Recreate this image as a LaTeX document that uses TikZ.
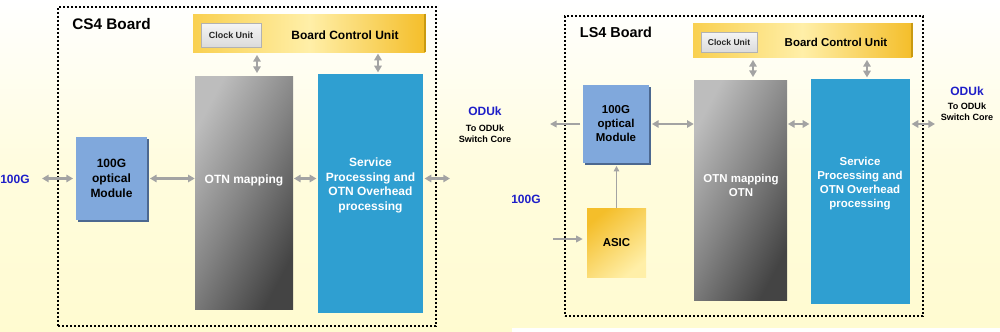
\documentclass[tikz,border=0pt]{standalone}
\usepackage{fontspec}
\setmainfont{Liberation Sans}
\usetikzlibrary{fit,arrows.meta,shadows}
\definecolor{bgY}{HTML}{FFFBD0}
\definecolor{goldA}{HTML}{F9D050}
\definecolor{goldB}{HTML}{F4BE2A}
\definecolor{goldC}{HTML}{FFEFA8}
\definecolor{goldE}{HTML}{C99A10}
\definecolor{otnL}{HTML}{BDBDBD}
\definecolor{otnM}{HTML}{838383}
\definecolor{otnD}{HTML}{444444}
\definecolor{spBlue}{HTML}{2F9FD1}
\definecolor{omBlue}{HTML}{80A8DC}
\definecolor{omDark}{HTML}{4C6890}
\definecolor{arrG}{HTML}{A3A3A3}
\definecolor{txtBlue}{HTML}{1E1EC8}
\tikzset{
  board/.style={draw=black, line width=1.5pt, dash pattern=on 1.6pt off 1.4pt, inner sep=0pt, rectangle},
  bcu/.style={inner sep=0pt, rectangle, left color=goldA, right color=goldB, middle color=goldC},
  clk/.style={inner sep=0pt, rectangle, draw=gray!60, line width=0.6pt, top color=gray!8, bottom color=gray!28},
  otn/.style={inner sep=0pt, rectangle, top color=otnL, bottom color=otnD, middle color=otnM, shading angle=62},
  spb/.style={inner sep=0pt, rectangle, fill=spBlue},
  omod/.style={inner sep=0pt, rectangle, fill=omBlue, drop shadow={shadow xshift=1.6pt, shadow yshift=-1.6pt, fill=omDark, opacity=1}},
  asicb/.style={inner sep=0pt, rectangle, top color=goldB, bottom color=goldC, shading angle=40},
  wtxt/.style={text=white, align=center, font=\bfseries\fontsize{9}{11}\selectfont},
  wtxtb/.style={text=white, align=center, font=\bfseries\fontsize{8.6}{10.5}\selectfont},
  ktxt/.style={text=black, align=center, font=\bfseries\fontsize{9}{11}\selectfont},
  ktxtb/.style={text=black, align=center, font=\bfseries\fontsize{8.6}{10.5}\selectfont},
  ttl/.style={text=black, font=\bfseries\fontsize{11.5}{13}\selectfont},
  ttlb/.style={text=black, font=\bfseries\fontsize{10.8}{13}\selectfont},
  clkt/.style={text=black!85, font=\bfseries\fontsize{6.7}{8}\selectfont},
  clktb/.style={text=black!85, font=\bfseries\fontsize{6.4}{8}\selectfont},
  bluet/.style={text=txtBlue, font=\bfseries\fontsize{9}{11}\selectfont},
  smallt/.style={text=black, align=center, font=\bfseries\fontsize{6.8}{8.2}\selectfont},
  dbl/.style={draw=arrG, line width=1.6pt, {Triangle[length=5pt,width=5.5pt]}-{Triangle[length=5pt,width=5.5pt]}},
  sgl/.style={draw=arrG, line width=1.2pt, -{Triangle[length=5pt,width=5pt]}},
  thin/.style={draw=arrG, line width=1pt, -{Triangle[length=4pt,width=4pt]}},
}
\begin{document}
\begin{tikzpicture}[x=0.75pt,y=-0.75pt]
\useasboundingbox (0,0) rectangle (1000,332);
\fill[top color=white, bottom color=bgY, middle color=bgY!70!white] (0,0) rectangle (1000,332);
\fill[white] (512,328) rectangle (1000,332);

% ---------------- CS4 board ----------------
\node[board, fit={(58,7) (436,326)}] (board1) {};
\node[ttl] (t1) at (111.5,24) {CS4 Board};
\node[bcu, fit={(193,14) (425,52)}] (bcu1) {};
\draw[goldE, line width=1.2pt] (bcu1.north east) -- (bcu1.south east);
\node[clk, fit={(201,23) (261,47)}] (clk1) {};
\node[clkt] (ct1) at (clk1.center) {Clock Unit};
\node[ktxt] (bt1) at (345,35) {Board Control Unit};
\node[otn, fit={(195,76) (293,309)}] (otn1) {};
\node[wtxt] (ot1) at (244,180) {OTN mapping};
\node[spb, fit={(318,74) (423,313)}] (sp1) {};
\node[wtxt] (st1) at (370.5,185.5) {Service\\Processing and\\OTN Overhead\\processing};
\node[omod, fit={(76,137) (147,220)}] (om1) {};
\node[ktxt] (mt1) at (om1.center) {100G\\optical\\Module};
\node[bluet] (g1) at (15,179) {100G};
\node[bluet] (od1) at (485,111) {ODUk};
\node[smallt] (sw1) at (485,133.5) {To ODUk\\Switch Core};
\coordinate (in1) at (42,178.5);
\coordinate (out1) at (450,178.5);
\coordinate (vx1) at (257,0);
\coordinate (vx2) at (378,0);
\draw[dbl, shorten >=2pt] (in1) -- (om1.west);
\draw[dbl, shorten <=2pt] (om1.east) -- (om1.east -| otn1.west);
\draw[dbl, shorten <=0.5pt, shorten >=1pt] (om1.east -| otn1.east) -- (om1.east -| sp1.west);
\draw[dbl, shorten <=1pt] (om1.east -| sp1.east) -- (out1);
\draw[dbl, shorten <=2pt, shorten >=2pt] (vx1 |- bcu1.south) -- (vx1 |- otn1.north);
\draw[dbl, shorten <=1pt, shorten >=1pt] (vx2 |- bcu1.south) -- (vx2 |- sp1.north);

% ---------------- LS4 board ----------------
\node[board, fit={(565,16) (923,316)}] (board2) {};
\node[ttlb] (t2) at (616,32) {LS4 Board};
\node[bcu, fit={(693,23) (912,57)}] (bcu2) {};
\draw[goldE, line width=1.2pt] (bcu2.north east) -- (bcu2.south east);
\node[clk, fit={(701,32) (757,52)}] (clk2) {};
\node[clktb] (ct2) at (clk2.center) {Clock Unit};
\node[ktxtb] (bt2) at (836,42) {Board Control Unit};
\node[otn, fit={(694,80) (787,300)}] (otn2) {};
\node[wtxtb] (ot2) at (741,185) {OTN mapping\\OTN};
\node[spb, fit={(811,79) (910,304)}] (sp2) {};
\node[wtxtb] (st2) at (860,184) {Service\\Processing and\\OTN Overhead\\processing};
\node[omod, fit={(583,85) (649,163)}] (om2) {};
\node[ktxtb] (mt2) at (om2.center) {100G\\optical\\Module};
\node[asicb, fit={(587,208) (646,277)}] (asic) {};
\node[ktxtb] (at) at (asic.center) {ASIC};
\node[bluet] (g2) at (526,199) {100G};
\node[bluet] (od2) at (967,91) {ODUk};
\node[smallt] (sw2) at (967,111.5) {To ODUk\\Switch Core};
\coordinate (out2l) at (550,124);
\coordinate (out2r) at (935,124);
\coordinate (in2) at (553,239);
\coordinate (vx3) at (753,0);
\coordinate (vx4) at (867,0);
\draw[sgl, shorten <=2pt] (om2.west) -- (out2l);
\draw[dbl, shorten <=2pt] (om2.east) -- (om2.east -| otn2.west);
\draw[dbl, shorten <=0.5pt, shorten >=1pt] (om2.east -| otn2.east) -- (om2.east -| sp2.west);
\draw[dbl, shorten <=1pt] (om2.east -| sp2.east) -- (out2r);
\draw[dbl, shorten <=2pt, shorten >=2pt] (vx3 |- bcu2.south) -- (vx3 |- otn2.north);
\draw[dbl, shorten <=2pt, shorten >=1pt] (vx4 |- bcu2.south) -- (vx4 |- sp2.north);
\draw[thin, shorten >=2pt] (asic.north) -- (asic.north |- om2.south);
\draw[sgl, shorten >=3pt] (in2) -- (in2 -| asic.west);
\end{tikzpicture}
\end{document}
